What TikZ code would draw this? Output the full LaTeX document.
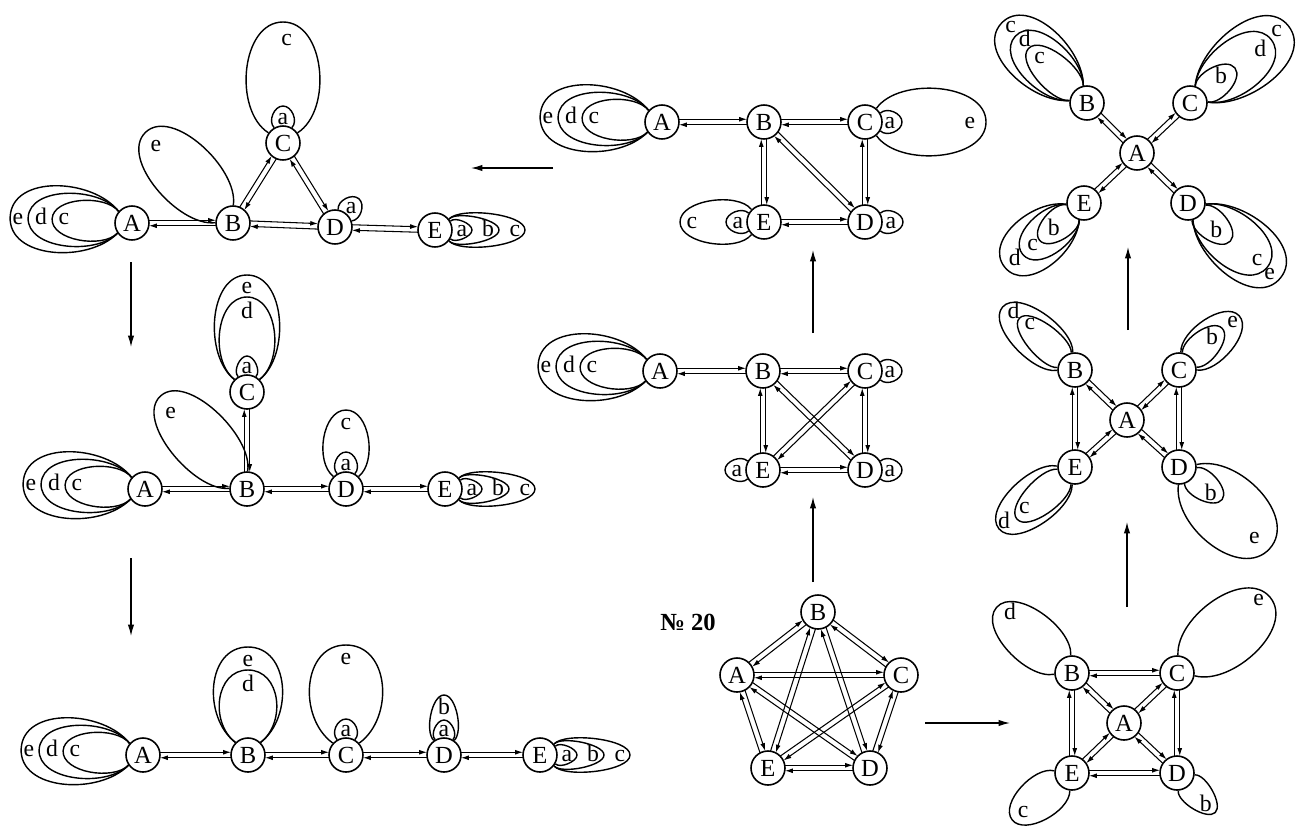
\documentclass[tikz,border=0pt]{standalone}
\usepackage{fontspec}
\setmainfont{Liberation Serif}
\usetikzlibrary{arrows.meta,calc}
\pgfdeclarelayer{bg}
\pgfsetlayers{bg,main}

\newcommand\nodefont{\fontsize{14}{14}\selectfont}
\newcommand\labfont{\fontsize{13.5}{14}\selectfont}

\tikzset{
  vtx/.style={circle, draw, line width=0.9pt, fill=white, minimum size=0.68cm, inner sep=0pt, font=\nodefont},
  lbl/.style={inner sep=0pt, text height=1.5ex, text depth=0pt, font=\labfont},
  arr/.style={line width=0.6pt, -{Latex[length=4.5pt,width=2.8pt]}},
  loopline/.style={line width=0.8pt},
  bigarr/.style={line width=0.65pt, -{Latex[length=6.5pt,width=3.6pt]}},
}

% two opposite arrows between two vertices
\newcommand\dbl[2]{%
  \draw[arr] ($(#1)!0.34cm!(#2)!0.055cm!90:(#2)$) -- ($(#2)!0.34cm!(#1)!0.055cm!-90:(#1)$);
  \draw[arr] ($(#2)!0.34cm!(#1)!0.055cm!90:(#1)$) -- ($(#1)!0.34cm!(#2)!0.055cm!-90:(#2)$);}

% loop: node, axis, half opening at the node, reach, half width (px)
\newcommand\lp[5]{%
  \pgfmathtruncatemacro\lpa{#2+#3}%
  \pgfmathtruncatemacro\lpb{#2-#3}%
  \pgfmathsetmacro\lpd{0.5*#3+30}%
  \pgfmathsetlengthmacro\lpk{(8*#5-68*sin(#3))/(3*(1+sin(\lpd)))*0.02cm}%
  \pgfmathsetlengthmacro\lpL{#4*0.02cm}%
  \draw[loopline] (#1.\lpa) .. controls +(#2+\lpd:\lpk) and +(#2+90:\lpk) .. ([shift={(#2:\lpL)}]#1.center)
    .. controls +(#2-90:\lpk) and +(#2-\lpd:\lpk) .. (#1.\lpb);}

% loop label: name, node, angle, distance (px), text
\newcommand\lb[5]{\node[lbl] (#1) at ([shift={(#3:#4*0.02cm)}]#2) {#5};}

% the c, d, e loops left of A and the a, b, c loops right of E
\newcommand\westloops[1]{\lp{#1}{177}{38}{80}{19.5}\lp{#1}{177}{38}{104}{26}\lp{#1}{177}{38}{122}{33}}
\newcommand\westlabels[1]{%
  \node[lbl] (#1c) at ([shift={(-68,-5)}]#1) {c};
  \node[lbl] (#1d) at ([shift={(-91,-5)}]#1) {d};
  \node[lbl] (#1e) at ([shift={(-114,-5)}]#1) {e};}
\newcommand\eastloops[1]{\lp{#1}{0}{30}{37}{8.5}\lp{#1}{0}{38}{64}{12.5}\lp{#1}{0}{38}{90}{16}}
\newcommand\eastlabels[1]{%
  \node[lbl] (#1a) at ([shift={(27,0)}]#1) {a};
  \node[lbl] (#1b) at ([shift={(53,0)}]#1) {b};
  \node[lbl] (#1c) at ([shift={(80,0)}]#1) {c};}

\begin{document}
\begin{tikzpicture}[x=0.02cm, y=-0.02cm]
\useasboundingbox (0,0) rectangle (1305,836);

% top left
\node[vtx] (A1) at (132,223) {A};
\node[vtx] (B1) at (233,223) {B};
\node[vtx] (C1) at (283,143) {C};
\node[vtx] (D1) at (335,227) {D};
\node[vtx] (E1) at (435,230) {E};
\begin{pgfonlayer}{bg}
  \dbl{A1}{B1} \dbl{B1}{D1} \dbl{D1}{E1} \dbl{B1}{C1} \dbl{C1}{D1}
  \westloops{A1} \eastloops{E1}
  \lp{B1}{134}{45}{126}{31}
  \lp{C1}{90}{30}{37}{10} \lp{C1}{90}{55}{121}{36}
  \lp{D1}{50}{30}{37}{10}
\end{pgfonlayer}
\westlabels{A1} \eastlabels{E1}
\lb{B1e}{B1}{135}{109}{e}
\lb{C1a}{C1}{90}{25}{a}
\lb{C1c}{C1}{88}{104}{c}
\lb{D1a}{D1}{50}{25}{a}

% middle left
\node[vtx] (A2) at (145,489) {A};
\node[vtx] (B2) at (247,489) {B};
\node[vtx] (C2) at (247,392) {C};
\node[vtx] (D2) at (346,489) {D};
\node[vtx] (E2) at (445,489) {E};
\begin{pgfonlayer}{bg}
  \dbl{A2}{B2} \dbl{B2}{D2} \dbl{D2}{E2} \dbl{B2}{C2}
  \westloops{A2} \eastloops{E2}
  \lp{B2}{133}{45}{127}{30}
  \lp{C2}{90}{30}{36}{9} \lp{C2}{90}{45}{95}{27} \lp{C2}{90}{45}{117}{32}
  \lp{D2}{90}{30}{37}{10} \lp{D2}{90}{45}{79}{22}
\end{pgfonlayer}
\westlabels{A2} \eastlabels{E2}
\lb{B2e}{B2}{135}{108}{e}
\lb{C2a}{C2}{90}{25}{a}
\lb{C2d}{C2}{90}{80}{d}
\lb{C2e}{C2}{90}{105}{e}
\lb{D2a}{D2}{90}{25}{a}
\lb{D2c}{D2}{90}{66}{c}

% bottom left
\node[vtx] (A3) at (143,755) {A};
\node[vtx] (B3) at (248,755) {B};
\node[vtx] (C3) at (346,755) {C};
\node[vtx] (D3) at (444,755) {D};
\node[vtx] (E3) at (540,755) {E};
\begin{pgfonlayer}{bg}
  \dbl{A3}{B3} \dbl{B3}{C3} \dbl{C3}{D3} \dbl{D3}{E3}
  \westloops{A3} \eastloops{E3}
  \lp{B3}{90}{45}{85}{28} \lp{B3}{90}{45}{108}{34}
  \lp{C3}{90}{30}{36}{10} \lp{C3}{90}{48}{110}{36}
  \lp{D3}{90}{30}{35}{9} \lp{D3}{90}{35}{60}{13}
\end{pgfonlayer}
\westlabels{A3} \eastlabels{E3}
\lb{B3d}{B3}{90}{70}{d}
\lb{B3e}{B3}{90}{95}{e}
\lb{C3a}{C3}{90}{25}{a}
\lb{C3e}{C3}{90}{97}{e}
\lb{D3a}{D3}{90}{25}{a}
\lb{D3b}{D3}{90}{47}{b}

% top centre
\node[vtx] (A4) at (662,122) {A};
\node[vtx] (B4) at (764,122) {B};
\node[vtx] (C4) at (865,122) {C};
\node[vtx] (E4) at (764,222) {E};
\node[vtx] (D4) at (865,222) {D};
\begin{pgfonlayer}{bg}
  \dbl{A4}{B4} \dbl{B4}{C4} \dbl{B4}{E4} \dbl{B4}{D4} \dbl{C4}{D4} \dbl{E4}{D4}
  \westloops{A4}
  \lp{C4}{0}{30}{37}{10} \lp{C4}{0}{50}{121}{33}
  \lp{D4}{0}{30}{38}{10}
  \lp{E4}{180}{30}{38}{10} \lp{E4}{180}{45}{84}{21}
\end{pgfonlayer}
\westlabels{A4}
\lb{C4a}{C4}{0}{25}{a}
\lb{C4e}{C4}{0}{105}{e}
\lb{D4a}{D4}{0}{26}{a}
\lb{E4a}{E4}{180}{26}{a}
\lb{E4c}{E4}{180}{72}{c}

% middle centre
\node[vtx] (A5) at (660,371) {A};
\node[vtx] (B5) at (763,371) {B};
\node[vtx] (C5) at (865,371) {C};
\node[vtx] (E5) at (763,470) {E};
\node[vtx] (D5) at (865,470) {D};
\begin{pgfonlayer}{bg}
  \dbl{A5}{B5} \dbl{B5}{C5} \dbl{B5}{E5} \dbl{B5}{D5} \dbl{C5}{E5} \dbl{C5}{D5} \dbl{E5}{D5}
  \westloops{A5}
  \lp{C5}{0}{30}{37}{10} \lp{D5}{0}{30}{37}{10} \lp{E5}{180}{30}{38}{10}
\end{pgfonlayer}
\westlabels{A5}
\lb{C5a}{C5}{0}{25}{a}
\lb{D5a}{D5}{0}{25}{a}
\lb{E5a}{E5}{180}{26}{a}

% No 20
\node[font=\bfseries\fontsize{14}{14}\selectfont] (num) at (688,622) {№ 20};
\node[vtx] (A6) at (737,675) {A};
\node[vtx] (B6) at (818,612) {B};
\node[vtx] (C6) at (901,675) {C};
\node[vtx] (E6) at (768,768) {E};
\node[vtx] (D6) at (870,768) {D};
\begin{pgfonlayer}{bg}
  \dbl{A6}{B6} \dbl{B6}{C6} \dbl{A6}{C6} \dbl{A6}{E6} \dbl{A6}{D6}
  \dbl{B6}{E6} \dbl{B6}{D6} \dbl{C6}{E6} \dbl{C6}{D6} \dbl{E6}{D6}
\end{pgfonlayer}

% bottom right
\node[vtx] (B7) at (1072,673) {B};
\node[vtx] (C7) at (1177,673) {C};
\node[vtx] (A7) at (1124,723) {A};
\node[vtx] (E7) at (1072,773) {E};
\node[vtx] (D7) at (1177,773) {D};
\begin{pgfonlayer}{bg}
  \dbl{B7}{C7} \dbl{B7}{E7} \dbl{C7}{D7} \dbl{E7}{D7}
  \dbl{A7}{B7} \dbl{A7}{C7} \dbl{A7}{D7} \dbl{A7}{E7}
  \lp{B7}{139}{45}{100}{25}
  \lp{C7}{39}{48}{120}{33}
  \lp{E7}{218}{45}{76}{20}
  \lp{D7}{314}{40}{55}{13}
\end{pgfonlayer}
\lb{B7d}{B7}{136}{86}{d}
\lb{C7e}{C7}{42}{110}{e}
\lb{E7c}{E7}{218}{62}{c}
\lb{D7b}{D7}{312}{43}{b}

% middle right
\node[vtx] (B8) at (1075,370) {B};
\node[vtx] (C8) at (1179,370) {C};
\node[vtx] (A8) at (1127,420) {A};
\node[vtx] (E8) at (1075,467) {E};
\node[vtx] (D8) at (1179,467) {D};
\begin{pgfonlayer}{bg}
  \dbl{B8}{E8} \dbl{C8}{D8}
  \dbl{A8}{B8} \dbl{A8}{C8} \dbl{A8}{D8} \dbl{A8}{E8}
  \lp{B8}{137}{35}{76}{15} \lp{B8}{139}{42}{96}{22}
  \lp{C8}{44}{35}{60}{14} \lp{C8}{42}{42}{81}{20}
  \lp{E8}{222}{35}{78}{16} \lp{E8}{219}{42}{98}{23}
  \lp{D8}{323}{35}{54}{13} \lp{D8}{318}{50}{122}{36}
\end{pgfonlayer}
\lb{B8c}{B8}{134}{65}{c}
\lb{B8d}{B8}{137}{84}{d}
\lb{C8b}{C8}{44}{46}{b}
\lb{C8e}{C8}{42}{72}{e}
\lb{E8c}{E8}{219}{65}{c}
\lb{E8d}{E8}{218}{90}{d}
\lb{D8b}{D8}{319}{42}{b}
\lb{D8e}{D8}{317}{103}{e}

% top right
\node[vtx] (A9) at (1137,153) {A};
\node[vtx] (B9) at (1087,103) {B};
\node[vtx] (C9) at (1190,103) {C};
\node[vtx] (E9) at (1084,203) {E};
\node[vtx] (D9) at (1188,203) {D};
\begin{pgfonlayer}{bg}
  \dbl{A9}{B9} \dbl{A9}{C9} \dbl{A9}{D9} \dbl{A9}{E9}
  \lp{B9}{137}{35}{80}{17} \lp{B9}{137}{35}{98}{24} \lp{B9}{137}{35}{117}{30}
  \lp{C9}{38}{35}{57}{14} \lp{C9}{38}{35}{103}{26} \lp{C9}{38}{35}{125}{32}
  \lp{E9}{220}{35}{58}{14} \lp{E9}{220}{35}{80}{20} \lp{E9}{219}{35}{102}{27}
  \lp{D9}{318}{35}{57}{14} \lp{D9}{321}{35}{102}{26} \lp{D9}{321}{35}{119}{31}
\end{pgfonlayer}
\lb{B9c}{B9}{136}{66}{c}
\lb{B9d}{B9}{135}{88}{d}
\lb{B9cc}{B9}{135}{108}{c}
\lb{C9b}{C9}{39}{40}{b}
\lb{C9d}{C9}{37}{88}{d}
\lb{C9c}{C9}{40}{113}{c}
\lb{E9b}{E9}{221}{40}{b}
\lb{E9c}{E9}{219}{66}{c}
\lb{E9d}{E9}{219}{89}{d}
\lb{D9b}{D9}{315}{40}{b}
\lb{D9c}{D9}{321}{89}{c}
\lb{D9e}{D9}{319}{108}{e}

% steps between the pictures
\coordinate (s1) at (553,168);  \coordinate (t1) at (471,168);
\coordinate (s2) at (131,262);  \coordinate (t2) at (131,347);
\coordinate (s3) at (131,558);  \coordinate (t3) at (131,636);
\coordinate (s4) at (813,582);  \coordinate (t4) at (813,497);
\coordinate (s5) at (813,333);  \coordinate (t5) at (813,250);
\coordinate (s6) at (925,723);  \coordinate (t6) at (1010,723);
\coordinate (s7) at (1127,607); \coordinate (t7) at (1127,522);
\coordinate (s8) at (1128,330); \coordinate (t8) at (1128,247);
\foreach \i in {1,...,8} \draw[bigarr] (s\i) -- (t\i);
\end{tikzpicture}
\end{document}
